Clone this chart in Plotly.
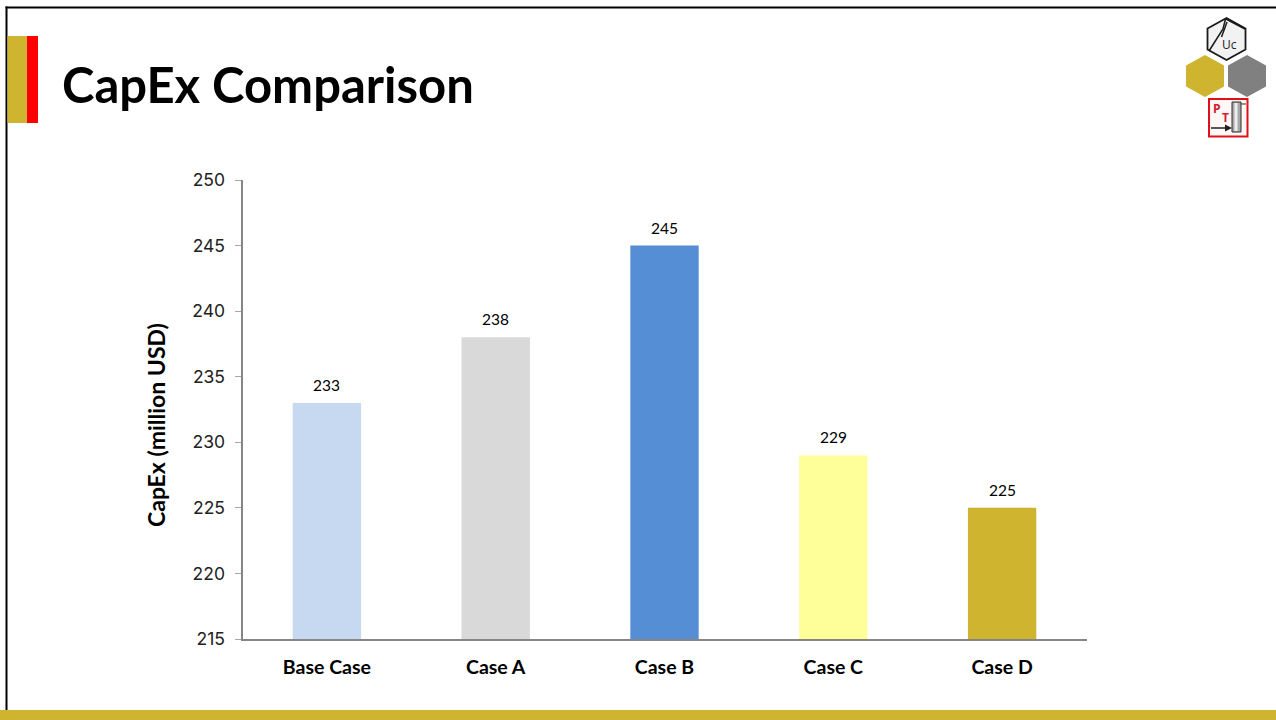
import plotly.graph_objects as go

categories = ["Base Case", "Case A", "Case B", "Case C", "Case D"]
capex = [233, 238, 245, 229, 225]
bar_colors = ["#C6D9F1", "#D9D9D9", "#558ED5", "#FFFF99", "#CFB52F"]
y_ticks = [215, 220, 225, 230, 235, 240, 245, 250]

W, H = 1276, 720
GOLD = "#CFB52F"


def px(x):
    return x / W


def py(y):
    return 1 - y / H


def rect(x0, y0, x1, y1, fill, line=None, lw=0):
    return dict(type="rect", xref="paper", yref="paper", x0=px(x0), x1=px(x1), y0=py(y0), y1=py(y1),
                fillcolor=fill, line=dict(color=line or fill, width=lw), layer="above")


def poly(points, fill=None, line=None, lw=0, closed=True):
    d = "M " + " L ".join(f"{px(a):.5f},{py(b):.5f}" for a, b in points) + (" Z" if closed else "")
    return dict(type="path", xref="paper", yref="paper", path=d,
                fillcolor=fill if fill else "rgba(0,0,0,0)",
                line=dict(color=line if line else "rgba(0,0,0,0)", width=lw), layer="above")


def hexagon(cx, cy, w, h):
    return [(cx, cy - h / 2), (cx + w / 2, cy - h / 4), (cx + w / 2, cy + h / 4),
            (cx, cy + h / 2), (cx - w / 2, cy + h / 4), (cx - w / 2, cy - h / 4)]


def label(text, x, y, size, color="#000000", family="Lato", anchor="center", angle=0):
    return dict(text=text, x=px(x), y=py(y), xref="paper", yref="paper", xanchor=anchor, yanchor="middle",
                showarrow=False, textangle=angle, font=dict(family=family, size=size, color=color))


fig = go.Figure(go.Bar(
    x=categories, y=capex, width=0.405, marker=dict(color=bar_colors, line=dict(width=0)),
    cliponaxis=False,
))

shapes = [
    rect(5.5, 6.5, 7.5, 720, "#000000"),
    rect(5.5, 6.5, 1276, 8.5, "#000000"),
    rect(7.5, 36, 27, 123, GOLD),
    rect(27, 36, 38, 123, "#FF0000"),
    rect(0, 710, 1276, 720, GOLD),
    # logo
    poly(hexagon(1226.5, 39, 38, 42), fill="#F2F2F2", line="#1A1A1A", lw=1.8),
    poly([(1225.5, 19), (1223, 29), (1209, 51)], line="#1A1A1A", lw=1.5, closed=False),
    poly([(1226, 19), (1245, 29)], line="#1A1A1A", lw=1.5, closed=False),
    poly([(1227, 22), (1221.5, 37)], line="#1A1A1A", lw=1.5, closed=False),
    poly(hexagon(1205, 76, 38, 42), fill=GOLD),
    poly(hexagon(1247, 76, 38, 42), fill="#808080"),
    rect(1209, 99, 1247.5, 136.5, "#FFF6F6", line="#E0101A", lw=2),
    rect(1232, 102, 1241, 132, "#A8A8A8", line="#303030", lw=1),
    rect(1234.5, 103, 1237.5, 131, "#EDEDED"),
    poly([(1241, 104), (1246, 104)], line="#303030", lw=1, closed=False),
    poly([(1211, 128), (1226, 128)], line="#202020", lw=1.5, closed=False),
    poly([(1225, 124.5), (1232, 128), (1225, 131.5)], fill="#202020"),
]

annotations = [
    label("<b>CapEx Comparison</b>", 59.5, 84, 49, anchor="left"),
    label("<b>CapEx (million USD)</b>", 155.5, 425.5, 23, angle=-90),
    label("Uc", 1229, 44, 12, color="#222222", family="Open Sans"),
    label("<b>P</b>", 1216.5, 108, 12, color="#D0202A", family="Open Sans"),
    label("<b>T</b>", 1225.5, 118, 12, color="#D0202A", family="Open Sans"),
]
for c, v in zip(categories, capex):
    annotations.append(dict(text=str(v), x=c, y=v, xref="x", yref="y", xanchor="center", yanchor="middle",
                            yshift=18, showarrow=False, font=dict(family="Lato", size=15.5, color="#000000")))

fig.update_layout(
    width=W, height=H, margin=dict(l=0, r=0, t=0, b=0), autosize=False,
    paper_bgcolor="#FFFFFF", plot_bgcolor="#FFFFFF", showlegend=False,
    shapes=shapes, annotations=annotations,
    xaxis=dict(domain=[px(242.5), px(1086.5)], type="category", showgrid=False, showline=True,
               linecolor="#868686", linewidth=2, ticks="", automargin=False, ticklabelstandoff=10,
               tickfont=dict(family="Lato", size=19.5, color="#000000", weight="bold")),
    yaxis=dict(domain=[py(639), py(180)], range=[215, 250], tickvals=y_ticks, showgrid=False, zeroline=False,
               showline=True, linecolor="#868686", linewidth=2, ticks="outside", ticklen=6,
               tickcolor="#A6A6A6", tickwidth=1, automargin=False, ticklabelstandoff=6,
               tickfont=dict(family="Inter", size=17.5, color="#222222")),
)

fig.write_html("out.html", config=dict(displayModeBar=False),
               post_script="document.body.style.margin='0';document.body.style.overflow='hidden';")
